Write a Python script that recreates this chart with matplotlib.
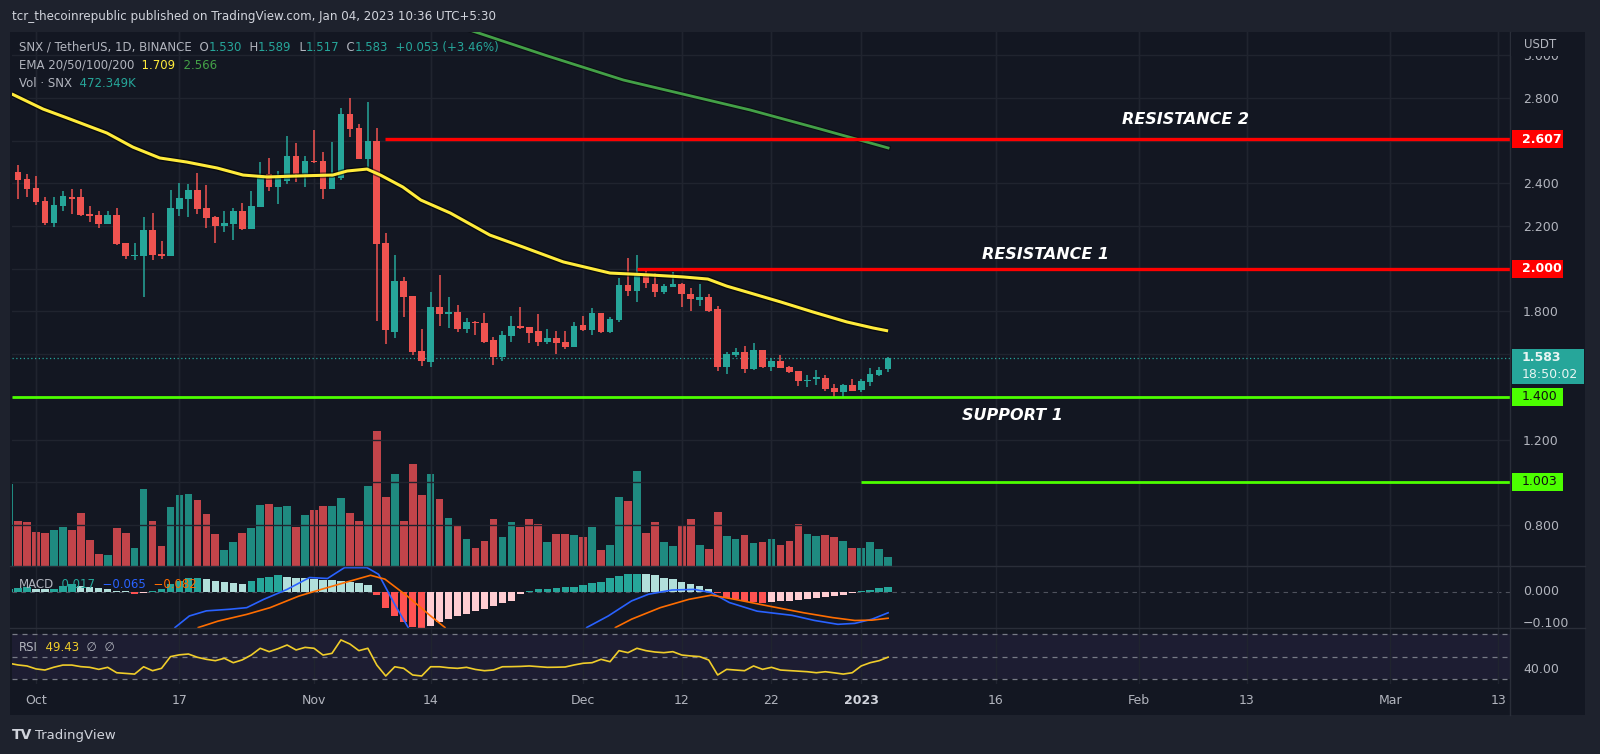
import matplotlib
matplotlib.use("Agg")
import matplotlib.pyplot as plt
import matplotlib.patheffects as pe
from matplotlib.patches import Rectangle
from matplotlib.transforms import blended_transform_factory, Bbox
import numpy as np
import pandas as pd

plt.rcParams['font.family'] = ['DejaVu Sans']

# ---- data (daily candles, first one is clipped) ----
start = pd.Timestamp('2022-09-28')

opens = [2.26, 2.451, 2.420, 2.380, 2.318, 2.216, 2.294, 2.338, 2.335, 2.257,
         2.250, 2.212, 2.250, 2.120, 2.058, 2.062, 2.182, 2.070, 2.058, 2.282,
         2.325, 2.367, 2.283, 2.241, 2.202, 2.210, 2.269, 2.188, 2.291, 2.442,
         2.384, 2.413, 2.529, 2.445, 2.507, 2.506, 2.373, 2.424, 2.726, 2.658,
         2.514, 2.600, 2.119, 1.706, 1.945, 1.874, 1.614, 1.564, 1.819, 1.790,
         1.798, 1.717, 1.753, 1.748, 1.666, 1.587, 1.685, 1.732, 1.726, 1.709,
         1.657, 1.674, 1.657, 1.635, 1.735, 1.713, 1.792, 1.705, 1.760, 1.923,
         1.894, 1.969, 1.928, 1.892, 1.916, 1.928, 1.884, 1.853, 1.866, 1.810,
         1.541, 1.596, 1.610, 1.529, 1.619, 1.541, 1.569, 1.541, 1.521, 1.475,
         1.482, 1.490, 1.443, 1.424, 1.455, 1.432, 1.471, 1.502, 1.530]
highs = [2.45, 2.486, 2.442, 2.434, 2.335, 2.335, 2.363, 2.372, 2.372, 2.294,
         2.271, 2.272, 2.283, 2.120, 2.120, 2.241, 2.260, 2.128, 2.369, 2.400,
         2.395, 2.450, 2.392, 2.247, 2.272, 2.285, 2.307, 2.362, 2.498, 2.521,
         2.456, 2.623, 2.589, 2.529, 2.651, 2.545, 2.595, 2.753, 2.800, 2.678,
         2.781, 2.659, 2.166, 2.064, 1.963, 1.874, 1.717, 1.890, 1.969, 1.868,
         1.830, 1.768, 1.756, 1.792, 1.682, 1.709, 1.780, 1.819, 1.726, 1.789,
         1.717, 1.709, 1.709, 1.750, 1.780, 1.816, 1.795, 1.776, 1.956, 2.052,
         2.066, 1.989, 1.978, 1.928, 1.983, 1.934, 1.908, 1.927, 1.884, 1.825,
         1.610, 1.630, 1.640, 1.652, 1.619, 1.580, 1.594, 1.547, 1.521, 1.503,
         1.525, 1.503, 1.460, 1.460, 1.485, 1.486, 1.533, 1.541, 1.589]
lows = [2.26, 2.325, 2.335, 2.297, 2.207, 2.195, 2.272, 2.255, 2.246, 2.220,
        2.193, 2.210, 2.112, 2.045, 2.039, 1.866, 2.042, 2.045, 2.058, 2.247,
        2.244, 2.257, 2.190, 2.120, 2.174, 2.135, 2.182, 2.188, 2.291, 2.366,
        2.305, 2.396, 2.406, 2.385, 2.495, 2.327, 2.373, 2.417, 2.615, 2.514,
        2.464, 1.755, 1.647, 1.678, 1.772, 1.595, 1.543, 1.540, 1.734, 1.723,
        1.705, 1.700, 1.691, 1.653, 1.548, 1.568, 1.658, 1.717, 1.653, 1.638,
        1.647, 1.603, 1.622, 1.635, 1.710, 1.690, 1.700, 1.700, 1.753, 1.874,
        1.843, 1.910, 1.869, 1.884, 1.916, 1.822, 1.803, 1.825, 1.799, 1.521,
        1.507, 1.588, 1.513, 1.525, 1.533, 1.522, 1.533, 1.513, 1.450, 1.446,
        1.454, 1.427, 1.400, 1.393, 1.429, 1.424, 1.450, 1.497, 1.517]
closes = [2.45, 2.417, 2.375, 2.314, 2.216, 2.297, 2.339, 2.328, 2.250, 2.249,
          2.212, 2.250, 2.115, 2.058, 2.065, 2.182, 2.065, 2.058, 2.283, 2.330,
          2.367, 2.279, 2.240, 2.202, 2.215, 2.269, 2.188, 2.295, 2.440, 2.384,
          2.423, 2.529, 2.445, 2.506, 2.500, 2.373, 2.432, 2.726, 2.654, 2.514,
          2.600, 2.116, 1.712, 1.942, 1.866, 1.609, 1.568, 1.819, 1.789, 1.798,
          1.717, 1.753, 1.745, 1.658, 1.587, 1.690, 1.732, 1.723, 1.700, 1.657,
          1.674, 1.653, 1.635, 1.732, 1.713, 1.792, 1.705, 1.765, 1.923, 1.894,
          1.972, 1.934, 1.892, 1.920, 1.928, 1.880, 1.859, 1.866, 1.803, 1.541,
          1.603, 1.611, 1.529, 1.619, 1.538, 1.569, 1.536, 1.516, 1.475, 1.478,
          1.494, 1.438, 1.424, 1.455, 1.429, 1.474, 1.507, 1.528, 1.583]
volume_k = [4435, 2425, 2371, 1846, 1810, 1937, 2136, 1937, 2860, 1430,
            652, 597, 2045, 1810, 959, 4163, 2425, 1086, 3186, 3855,
            3910, 3566, 2806, 1756, 851, 1285, 1810, 2082, 3294, 3385,
            3186, 3240, 2136, 2751, 3059, 3240, 3240, 3674, 2860, 2425,
            4326, 7312, 3729, 5014, 2425, 5521, 3855, 4978, 3620, 2625,
            2190, 1466, 996, 1376, 2570, 1557, 2371, 2100, 2570, 2281,
            1285, 1756, 1720, 1665, 1557, 2136, 851, 1122, 3729, 3530,
            5140, 1810, 2371, 1285, 1086, 2190, 2570, 1122, 941, 2914,
            1611, 1466, 1665, 1231, 1285, 1466, 1122, 1376, 2281, 1756,
            1611, 1701, 1557, 1376, 996, 996, 1321, 941, 472]

# EMA 50 (yellow) and EMA 200 (green), read at bar positions
ema50_bar = [0.3, 3.8, 6.5, 10.9, 13.8, 16.8, 19.8, 23.2, 26.1, 28.8, 32.4,
             36.1, 37.7, 39.9, 41.4, 43.9, 45.9, 49.2, 53.6, 57.3, 61.8, 67.0,
             71.5, 75.1, 77.9, 80.0, 82.6, 86.0, 89.6, 93.4, 96.3, 98.0]
ema50_val = [2.819, 2.748, 2.706, 2.636, 2.570, 2.519, 2.500, 2.472, 2.439,
             2.430, 2.435, 2.439, 2.458, 2.467, 2.439, 2.383, 2.322, 2.261,
             2.158, 2.102, 2.032, 1.980, 1.971, 1.962, 1.952, 1.919, 1.887,
             1.845, 1.798, 1.751, 1.723, 1.709]
ema200_bar = [50.5, 59.8, 68.5, 82.6, 90.4, 98.0]
ema200_val = [3.13, 3.00, 2.884, 2.744, 2.655, 2.566]

# MACD (12, 26, 9)
macd_hist = [0.010, 0.012, 0.014, 0.010, 0.008, 0.008, 0.018, 0.024, 0.018, 0.015,
             0.012, 0.008, 0.004, 0.002, -0.006, -0.003, 0.003, 0.008, 0.025, 0.035,
             0.043, 0.045, 0.040, 0.034, 0.031, 0.029, 0.024, 0.034, 0.042, 0.048,
             0.052, 0.046, 0.044, 0.042, 0.040, 0.037, 0.036, 0.034, 0.030, 0.027,
             0.022, -0.010, -0.050, -0.075, -0.095, -0.108, -0.115, -0.105, -0.095, -0.085,
             -0.075, -0.068, -0.060, -0.052, -0.045, -0.035, -0.028, -0.005, 0.003, 0.008,
             0.010, 0.013, 0.015, 0.017, 0.021, 0.027, 0.031, 0.042, 0.050, 0.055,
             0.056, 0.055, 0.052, 0.045, 0.040, 0.031, 0.024, 0.019, 0.010, -0.003,
             -0.018, -0.023, -0.028, -0.031, -0.033, -0.031, -0.029, -0.027, -0.024, -0.021,
             -0.018, -0.015, -0.012, -0.008, -0.004, 0.002, 0.006, 0.011, 0.017]
macd_segments = [
    ([18.5, 20.1, 22.0, 24.6, 26.5, 28.4, 31.0, 33.5, 35.5, 37.4, 39.9, 41.2, 43.1, 44.5],
     [-0.111, -0.075, -0.059, -0.054, -0.049, -0.023, 0.008, 0.045, 0.042, 0.076, 0.076, 0.055, -0.044, -0.111]),
    ([64.4, 66.8, 69.4, 71.3, 73.9, 76.4, 78.3, 80.3, 83.4, 87.3, 89.8, 92.4, 94.3, 96.2, 98.0],
     [-0.111, -0.075, -0.028, -0.007, 0.006, 0.008, -0.002, -0.033, -0.060, -0.073, -0.089, -0.101, -0.098, -0.085, -0.065]),
]
signal_segments = [
    ([21.1, 23.3, 26.5, 29.1, 32.3, 34.8, 37.4, 40.3, 41.9, 44.4, 47.0, 48.6],
     [-0.111, -0.091, -0.070, -0.049, -0.013, 0.008, 0.029, 0.052, 0.040, -0.013, -0.075, -0.111]),
    ([67.6, 69.4, 72.6, 75.8, 78.3, 80.9, 84.7, 88.6, 91.8, 94.3, 96.2, 98.0],
     [-0.111, -0.085, -0.049, -0.023, -0.010, -0.023, -0.044, -0.065, -0.080, -0.089, -0.088, -0.082]),
]

# RSI 14
rsi = [44.0, 42.5, 41.6, 39.0, 38.0, 40.5, 42.4, 42.4, 41.0, 40.4,
       38.6, 40.4, 35.6, 35.0, 34.4, 40.9, 37.4, 39.5, 49.9, 51.5,
       52.2, 49.3, 47.5, 46.3, 48.4, 44.5, 47.0, 51.3, 57.3, 54.3,
       57.0, 60.2, 55.8, 58.1, 57.3, 51.3, 52.8, 64.7, 61.1, 55.2,
       57.3, 42.4, 32.7, 40.9, 39.5, 33.6, 32.7, 40.9, 40.9, 40.0,
       39.5, 40.4, 38.5, 37.4, 38.0, 40.9, 41.0, 41.2, 41.6, 41.0,
       40.4, 40.5, 40.7, 42.5, 44.0, 44.5, 47.5, 45.4, 55.2, 53.4,
       57.3, 55.2, 54.0, 53.4, 54.3, 51.3, 50.5, 49.9, 46.9, 33.6,
       38.6, 38.0, 37.4, 41.6, 38.6, 40.4, 38.0, 37.5, 37.0, 36.5,
       35.6, 36.5, 35.5, 34.4, 35.6, 41.6, 44.5, 46.3, 49.43]

# drawn support / resistance levels and the day each one starts
red_levels = [2.607, 2.000]
red_starts = ['2022-11-08 22:00', '2022-12-07']
green_levels = [1.400, 1.003]
green_starts = [None, '2023-01-01']
level_names = ['RESISTANCE 2', 'RESISTANCE 1', 'SUPPORT 1']

tick_dates = ['2022-10-01', '2022-10-17', '2022-11-01', '2022-11-14', '2022-12-01',
              '2022-12-12', '2022-12-22', '2023-01-01', '2023-01-16', '2023-02-01',
              '2023-02-13', '2023-03-01', '2023-03-13']
tick_labels = ['Oct', '17', 'Nov', '14', 'Dec', '12', '22', '2023', '16', 'Feb',
               '13', 'Mar', '13']
price_grid = [0.8, 1.0, 1.2, 1.4, 1.6, 1.8, 2.0, 2.2, 2.4, 2.6, 2.8, 3.0]
price_shown = [0.8, 1.2, 1.8, 2.2, 2.4, 2.8, 3.0]

# ---- colours ----
BG = '#131722'
OUTER = '#1e222d'
GRID = '#20242f'
SEP = '#2a2e39'
TXT = '#b2b5be'
UP, DOWN = '#26a69a', '#ef5350'
VUP, VDOWN = '#1f8a80', '#c2444a'
RED = '#ff0000'
LIME = '#4cff00'

# ---- layout (figure pixels) ----
W, H = 1600, 754
L, R = 12, 1510
Y_TOP, Y_MACD, Y_RSI, Y_BOT = 32, 566, 628, 684


def rect(top, bottom):
    return [L / W, 1 - bottom / H, (R - L) / W, (bottom - top) / H]


def axfrac(px):
    return (px - L) / (R - L)


fig = plt.figure(figsize=(16, 7.54), dpi=100, facecolor=OUTER)
fig.add_artist(Rectangle((10 / W, 1 - 715 / H), 1575 / W, 683 / H,
                         transform=fig.transFigure, facecolor=BG,
                         edgecolor='none', zorder=-2))

ax_vol = fig.add_axes(rect(Y_TOP, Y_MACD), facecolor='none')
ax = fig.add_axes(rect(Y_TOP, Y_MACD), facecolor='none')
ax_m = fig.add_axes(rect(Y_MACD, Y_RSI), facecolor='none')
ax_r = fig.add_axes(rect(Y_RSI, Y_BOT), facecolor='none')

idx = np.arange(len(opens))
tick_x = [(pd.Timestamp(d) - start).days for d in tick_dates]
XMIN, XMAX = 0.33, 167.33
o, h, l, c = map(np.array, (opens, highs, lows, closes))
up = c >= o

for a in (ax_vol, ax, ax_m, ax_r):
    a.set_xlim(XMIN, XMAX)
    for s in a.spines.values():
        s.set_visible(False)
    a.set_xticks(tick_x)
    a.tick_params(axis='x', length=0, labelbottom=False)
    a.grid(True, axis='x', color=GRID, lw=1)
    a.set_axisbelow(True)

# volume
ax_vol.bar(idx, volume_k, width=0.86, color=np.where(up, VUP, VDOWN), zorder=1)
ax_vol.set_ylim(0, 29000)
ax_vol.set_yticks([])

# price pane
ax.set_ylim(0.608, 3.109)
ax.set_yticks(price_grid)
ax.set_yticklabels([f'{p:.3f}' if p in price_shown else '' for p in price_grid])
ax.yaxis.tick_right()
ax.tick_params(axis='y', length=0, pad=9.4, labelsize=9, labelcolor=TXT)
ax.grid(True, axis='y', color=GRID, lw=1)

ax.vlines(idx, l, h, colors=np.where(up, UP, DOWN), lw=1.1, zorder=2)
ax.bar(idx, np.maximum(np.abs(c - o), 0.004), bottom=np.minimum(o, c),
       width=0.74, color=np.where(up, UP, DOWN), zorder=2.1)

shadow = [pe.Stroke(linewidth=4.2, foreground='#000000', alpha=0.55), pe.Normal()]
ax.plot(ema50_bar, ema50_val, color='#ffeb3b', lw=2.2, zorder=2.5, path_effects=shadow,
        solid_capstyle='butt', solid_joinstyle='round')
ax.plot(ema200_bar, ema200_val, color='#43a047', lw=2.0, zorder=2.5,
        path_effects=[pe.Stroke(linewidth=3.6, foreground='#000000', alpha=0.4), pe.Normal()])

last = closes[-1]
ax.axhline(last, color=UP, lw=0.9, ls=(0, (1, 2)), zorder=1.5)

for lev, st in zip(red_levels, red_starts):
    x0 = (pd.Timestamp(st) - start) / pd.Timedelta(days=1)
    ax.hlines(lev, x0, XMAX, color=RED, lw=2.4, zorder=3)
for lev, st in zip(green_levels, green_starts):
    x0 = XMIN if st is None else (pd.Timestamp(st) - start).days
    ax.hlines(lev, x0, XMAX, color=LIME, lw=2.0, zorder=3)

lbl = dict(color='white', fontsize=11.5, fontweight='bold', fontstyle='italic',
           ha='center', va='center', zorder=4)
ax.text(131.1, 2.697, level_names[0], **lbl)
ax.text(115.6, 2.065, level_names[1], **lbl)
ax.text(111.9, 1.315, level_names[2], **lbl)

# badges on the price scale
ppu = (Y_MACD - Y_TOP) / (3.109 - 0.608)
bt = blended_transform_factory(ax.transAxes, ax.transData)
for lev, fc, tc in [(red_levels[0], RED, 'white'), (red_levels[1], RED, 'white'),
                    (green_levels[0], LIME, '#101010'), (green_levels[1], LIME, '#101010')]:
    ax.add_patch(Rectangle((axfrac(1512), lev - 9 / ppu), axfrac(1563) - axfrac(1512),
                           18 / ppu, transform=bt, facecolor=fc, edgecolor='none',
                           clip_on=False, zorder=5))
    ax.text(axfrac(1522), lev, f'{lev:.3f}', transform=bt, color=tc, fontsize=9,
            fontweight='bold' if tc == 'white' else 'normal', va='center', ha='left',
            clip_on=False, zorder=6)
ax.add_patch(Rectangle((axfrac(1512), last - 26 / ppu), axfrac(1584) - axfrac(1512),
                       35 / ppu, transform=bt, facecolor=UP, edgecolor='none',
                       clip_on=False, zorder=5))
ax.text(axfrac(1522), last, f'{last:.3f}', transform=bt, color='#e8f5f3', fontsize=9,
        fontweight='bold', va='center', ha='left', clip_on=False, zorder=6)
ax.text(axfrac(1522), last - 17 / ppu, '18:50:02', transform=bt, color='#e8f5f3',
        fontsize=9, va='center', ha='left', clip_on=False, zorder=6)

# MACD pane
ax_m.set_ylim(-0.1125, 0.081)
ax_m.set_yticks([])
hist = np.array(macd_hist)
prev = np.concatenate([[hist[0] - 1], hist[:-1]])
hcol = np.where(hist >= 0, np.where(hist >= prev, '#26a69a', '#b2dfdb'),
                np.where(hist <= prev, '#ff5252', '#ffcdd2'))
ax_m.bar(idx, hist, width=0.82, color=hcol, zorder=1)
ax_m.axhline(0, color='#787b86', lw=0.8, ls=(0, (4, 4)), alpha=0.6, zorder=0.5)
for xs, ys in macd_segments:
    ax_m.plot(xs, ys, color='#2962ff', lw=1.2, zorder=2)
for xs, ys in signal_segments:
    ax_m.plot(xs, ys, color='#ff6d00', lw=1.2, zorder=2)
mt = blended_transform_factory(ax_m.transAxes, ax_m.transData)
ax_m.text(axfrac(1523), 0.0, '0.000', transform=mt, color=TXT, fontsize=9,
          va='center', ha='left', clip_on=False)
t = ax_m.text(axfrac(1523), -0.1, '\u22120.100', transform=mt, color=TXT, fontsize=9,
              va='center', ha='left')
t.set_clip_box(Bbox([[R, H - Y_RSI], [1585, H - Y_MACD]]))

# RSI pane
ax_r.set_ylim(25.6, 75.3)
ax_r.axhspan(30, 70, xmin=0, xmax=1, color='#7e57c2', alpha=0.10, lw=0, zorder=0.2)
for lv in (70, 50, 30):
    ax_r.axhline(lv, color='#787b86', lw=0.9, ls=(0, (4, 4)), zorder=0.6)
ax_r.plot(idx, rsi, color='#f0cd2a', lw=1.2, zorder=2)
ax_r.set_yticks([40])
ax_r.set_yticklabels(['40.00'])
ax_r.yaxis.tick_right()
ax_r.tick_params(axis='y', length=0, pad=9.4, labelsize=9, labelcolor=TXT)
ax_r.tick_params(axis='x', labelbottom=True, pad=7, labelsize=9, labelcolor=TXT)
ax_r.set_xticklabels(tick_labels)
for tl in ax_r.get_xticklabels():
    if tl.get_text() == '2023':
        tl.set_fontweight('bold')
        tl.set_color('#d1d4dc')

# pane separators
for y in (Y_MACD, Y_RSI):
    fig.add_artist(plt.Line2D([10 / W, 1585 / W], [1 - y / H, 1 - y / H],
                              color=SEP, lw=1, transform=fig.transFigure))
fig.add_artist(plt.Line2D([R / W, R / W], [1 - 715 / H, 1 - Y_TOP / H],
                          color=SEP, lw=1, transform=fig.transFigure, zorder=0.5))

# USDT caption over the clipped 3.000 label
fig.add_artist(Rectangle((1511 / W, 1 - 56 / H), 73 / W, 23 / H, transform=fig.transFigure,
                         facecolor=BG, edgecolor='none', zorder=1))
fig.text(1540 / W, 1 - 45 / H, 'USDT', color=TXT, fontsize=8.5, ha='center', va='center')

# legends / header
renderer = fig.canvas.get_renderer()


def row(x_px, y_px, parts, size=8.5):
    x = x_px
    for s, col in parts:
        tt = fig.text(x / W, 1 - y_px / H, s, color=col, fontsize=size,
                      va='baseline', ha='left', zorder=6)
        x = tt.get_window_extent(renderer).x1


row(12, 20, [('tcr_thecoinrepublic published on TradingView.com, Jan 04, 2023 10:36 UTC+5:30', '#d1d4dc')], 8.6)
row(19, 51, [('SNX / TetherUS, 1D, BINANCE', TXT), ('  O', TXT), ('1.530', UP), ('  H', TXT),
             ('1.589', UP), ('  L', TXT), ('1.517', UP), ('  C', TXT), ('1.583', UP),
             ('  +0.053 (+3.46%)', UP)])
row(19, 69, [('EMA 20/50/100/200', TXT), ('  1.709', '#ffeb3b'), ('  2.566', '#43a047')])
row(19, 87, [('Vol \u00b7 SNX', TXT), ('  472.349K', UP)])
row(19, 588, [('MACD', TXT), ('  0.017', UP), ('  \u22120.065', '#2962ff'), ('  \u22120.082', '#ff6d00')])
row(19, 651, [('RSI', TXT), ('  49.43', '#f0cd2a'), ('  \u2205', TXT), ('  \u2205', TXT)])

fig.text(12 / W, 1 - 735 / H, 'TV', color='#d1d4dc', fontsize=10, fontweight='heavy',
         va='center', ha='left')
fig.text(35 / W, 1 - 735 / H, 'TradingView', color='#d1d4dc', fontsize=9.5,
         va='center', ha='left')

fig.savefig('out.png', dpi=100, facecolor=OUTER)
